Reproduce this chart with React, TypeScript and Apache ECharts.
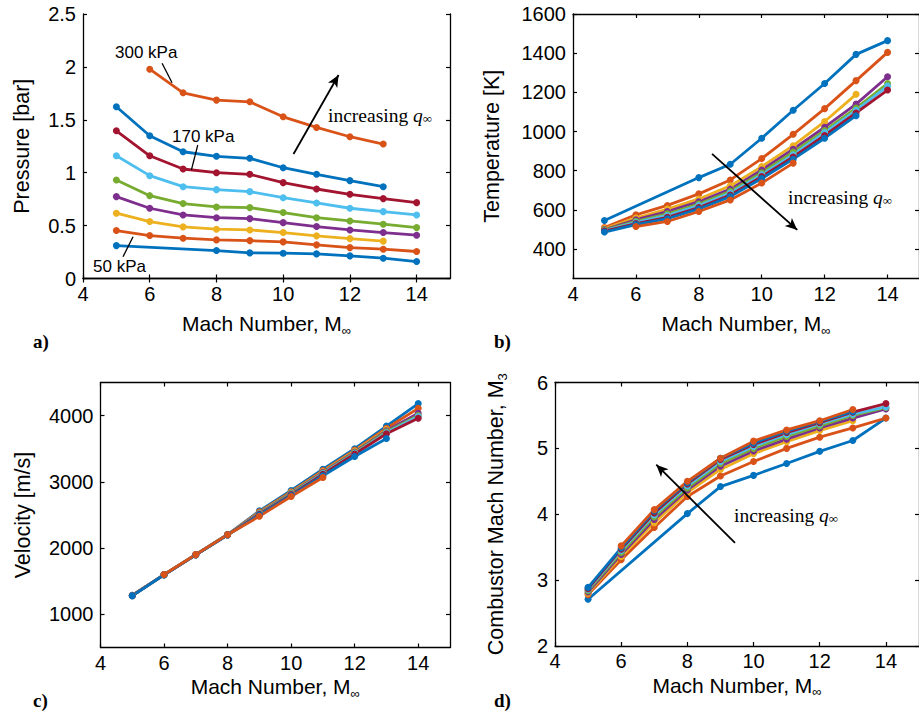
import { useEffect, useRef } from 'react';
import * as echarts from 'echarts';

// ---------------- data ----------------
const machNumbers = [5, 6, 7, 8, 9, 10, 11, 12, 13, 14];
const xTicks = [4, 6, 8, 10, 12, 14];

const caseNames = ['50 kPa', 'case 2', 'case 3', 'case 4', 'case 5', 'case 6', '170 kPa', 'case 8', '300 kPa'];

// a) static pressure [bar]
const pressure: (number | null)[][] = [
  [0.311, null, null, 0.264, 0.242, 0.239, 0.233, 0.214, 0.192, 0.16],
  [0.453, 0.406, 0.381, 0.365, 0.358, 0.346, 0.318, 0.292, 0.277, 0.255],
  [0.617, 0.538, 0.488, 0.466, 0.459, 0.434, 0.403, 0.377, 0.353, null],
  [0.774, 0.664, 0.601, 0.575, 0.566, 0.528, 0.491, 0.459, 0.434, 0.409],
  [0.931, 0.783, 0.708, 0.676, 0.67, 0.623, 0.575, 0.544, 0.513, 0.481],
  [1.16, 0.972, 0.868, 0.84, 0.821, 0.764, 0.714, 0.664, 0.632, 0.601],
  [1.396, 1.16, 1.035, 1.0, 0.985, 0.906, 0.846, 0.796, 0.755, 0.717],
  [1.623, 1.349, 1.198, 1.155, 1.136, 1.047, 0.985, 0.925, 0.868, null],
  [null, 1.978, 1.755, 1.686, 1.67, 1.528, 1.428, 1.34, 1.271, null],
];

// b) temperature [K]
const temperature: (number | null)[][] = [
  [546, null, null, 765, 833, 966, 1109, 1245, 1394, 1464],
  [510, 575, 623, 682, 753, 862, 986, 1117, 1260, 1404],
  [505, 558, 604, 656, 723, 821, 928, 1051, 1190, null],
  [500, 550, 592, 642, 706, 804, 910, 1022, 1140, 1280],
  [497, 542, 580, 630, 695, 790, 895, 1005, 1120, 1245],
  [494, 536, 572, 622, 686, 780, 882, 995, 1108, 1232],
  [492, 530, 562, 612, 676, 770, 870, 980, 1095, 1212],
  [487, 525, 555, 605, 668, 760, 859, 966, 1081, null],
  [null, 515, 541, 592, 651, 737, 839, null, null, null],
];

// c) velocity [m/s]
const velocity: (number | null)[][] = [
  [1290, null, null, 2205, 2562, 2870, 3190, 3500, 3842, 4182],
  [1287, 1601, 1904, 2205, 2548, 2852, 3170, 3480, 3810, 4110],
  [1286, 1600, 1903, 2204, 2538, 2842, 3156, 3466, 3790, null],
  [1285, 1600, 1902, 2203, 2530, 2832, 3145, 3452, 3772, 4035],
  [1284, 1599, 1901, 2202, 2524, 2824, 3135, 3441, 3757, 4002],
  [1283, 1598, 1900, 2201, 2518, 2816, 3126, 3430, 3742, 3985],
  [1282, 1597, 1899, 2200, 2512, 2808, 3116, 3420, 3727, 3960],
  [1280, 1596, 1898, 2199, 2500, 2795, 3092, 3382, 3655, null],
  [null, 1602, 1902, 2203, 2480, 2780, 3065, null, null, null],
];

// d) combustor Mach number
const combustorMach: (number | null)[][] = [
  [2.71, null, null, 4.01, 4.42, 4.59, 4.77, 4.955, 5.12, 5.46],
  [2.78, 3.31, 3.8, 4.27, 4.58, 4.8, 5.0, 5.17, 5.31, 5.46],
  [2.8, 3.36, 3.87, 4.33, 4.68, 4.92, 5.1, 5.27, 5.42, null],
  [2.82, 3.39, 3.92, 4.37, 4.73, 4.96, 5.14, 5.31, 5.46, 5.6],
  [2.84, 3.42, 3.96, 4.4, 4.77, 5.0, 5.18, 5.34, 5.5, 5.62],
  [2.86, 3.45, 3.99, 4.43, 4.8, 5.03, 5.21, 5.37, 5.52, 5.63],
  [2.87, 3.47, 4.02, 4.46, 4.83, 5.06, 5.24, 5.39, 5.55, 5.68],
  [2.89, 3.49, 4.05, 4.48, 4.85, 5.08, 5.26, 5.41, 5.56, null],
  [null, 3.52, 4.07, 4.5, 4.85, 5.11, 5.28, 5.42, 5.59, null],
];

const pressureTicks = [0, 0.5, 1, 1.5, 2, 2.5];
const temperatureTicks = [400, 600, 800, 1000, 1200, 1400, 1600];
const velocityTicks = [1000, 2000, 3000, 4000];
const combustorTicks = [2, 3, 4, 5, 6];

// ---------------- styles ----------------
const colors = ['#0072BD', '#D95319', '#EDB120', '#7E2F8E', '#77AC30', '#4DBEEE', '#A2142F', '#0072BD', '#D95319'];
const SANS = "'Liberation Sans', Arial, Helvetica, sans-serif";
const SERIF = "'Liberation Serif', 'Times New Roman', serif";

type Panel = {
  data: (number | null)[][];
  yMin: number;
  yMax: number;
  yTicks: number[];
  yName: string;
  grid: { left: number; top: number; width: number; height: number };
  yGap: number;
  xGap: number;
  annotations: { from: [number, number]; to: [number, number]; arrow: boolean }[];
};

const panels: Panel[] = [
  {
    data: pressure, yMin: 0, yMax: 2.5, yTicks: pressureTicks, yName: 'Pressure [bar]',
    grid: { left: 83, top: 14, width: 367, height: 264.5 }, yGap: 48, xGap: 32,
    annotations: [
      { from: [10.31, 1.177], to: [11.66, 1.923], arrow: true },
      { from: [6.37, 2.034], to: [6.67, 1.85], arrow: false },
      { from: [7.44, 1.262], to: [7.25, 1.026], arrow: false },
      { from: [5.5, 0.395], to: [5.2, 0.206], arrow: false },
    ],
  },
  {
    data: temperature, yMin: 250, yMax: 1600, yTicks: temperatureTicks, yName: 'Temperature [K]',
    grid: { left: 573, top: 14, width: 350, height: 264.5 }, yGap: 68, xGap: 32,
    annotations: [{ from: [8.42, 886], to: [11.13, 498], arrow: true }],
  },
  {
    data: velocity, yMin: 500, yMax: 4500, yTicks: velocityTicks, yName: 'Velocity [m/s]',
    grid: { left: 100.5, top: 382.5, width: 349.5, height: 265 }, yGap: 65, xGap: 26,
    annotations: [],
  },
  {
    data: combustorMach, yMin: 2, yMax: 6, yTicks: combustorTicks, yName: 'Combustor Mach Number, M{s|3}',
    grid: { left: 555, top: 382.5, width: 367.4, height: 263.5 }, yGap: 46, xGap: 26,
    annotations: [{ from: [9.44, 3.567], to: [7.06, 4.753], arrow: true }],
  },
];

function buildOption() {
  const grid: any[] = [];
  const xAxis: any[] = [];
  const yAxis: any[] = [];
  const series: any[] = [];
  const axisLine = { show: true, lineStyle: { color: '#000', width: 1.3 } };
  const axisTick = (vals: number[]) => ({ show: true, inside: true, length: 4, customValues: vals, lineStyle: { color: '#000', width: 1.2 } });
  const fmt = (v: number) => String(v);

  panels.forEach((p, i) => {
    grid.push({ ...p.grid, containLabel: false, show: false });
    const nameStyle = (size: number) => ({
      fontFamily: SANS, fontSize: size, color: '#000', lineHeight: 26,
      rich: {
        s: { fontFamily: SANS, fontSize: 13, color: '#000', verticalAlign: 'bottom', lineHeight: 13 },
      },
    });
    xAxis.push({
      type: 'value', gridIndex: i, position: 'bottom', min: 4, max: 15,
      name: 'Mach Number, M{s|∞}', nameLocation: 'middle', nameGap: p.xGap,
      nameTextStyle: nameStyle(21),
      axisLine, axisTick: axisTick(xTicks), splitLine: { show: false },
      axisLabel: { show: true, customValues: xTicks, formatter: fmt, margin: 5, fontFamily: SANS, fontSize: 20, color: '#000' },
    });
    yAxis.push({
      type: 'value', gridIndex: i, position: 'left', min: p.yMin, max: p.yMax,
      name: p.yName, nameLocation: 'middle', nameGap: p.yGap,
      nameTextStyle: nameStyle(21.5),
      axisLine, axisTick: axisTick(p.yTicks), splitLine: { show: false },
      axisLabel: { show: true, customValues: p.yTicks, formatter: fmt, margin: 7, fontFamily: SANS, fontSize: 20, color: '#000' },
    });
  });
  // mirrored box axes (top / right)
  panels.forEach((p, i) => {
    xAxis.push({
      type: 'value', gridIndex: i, position: 'top', min: 4, max: 15,
      axisLine, axisTick: axisTick(xTicks), axisLabel: { show: false }, splitLine: { show: false },
    });
    yAxis.push({
      type: 'value', gridIndex: i, position: 'right', min: p.yMin, max: p.yMax,
      axisLine, axisTick: axisTick(p.yTicks), axisLabel: { show: false }, splitLine: { show: false },
    });
  });

  panels.forEach((p, i) => {
    p.data.forEach((vals, si) => {
      series.push({
        type: 'line', name: caseNames[si], xAxisIndex: i, yAxisIndex: i,
        data: machNumbers.map((m, k) => [m, vals[k]]).filter((d) => d[1] !== null),
        symbol: 'circle', symbolSize: 7, showSymbol: true,
        lineStyle: { color: colors[si], width: 2.8 },
        itemStyle: { color: colors[si] },
        silent: true,
      });
    });
    p.annotations.forEach((a) => {
      series.push({
        type: 'line', xAxisIndex: i, yAxisIndex: i, data: [a.from], showSymbol: false, symbolSize: 0,
        lineStyle: { opacity: 0 }, silent: true, z: 10,
        markLine: {
          silent: true, animation: false,
          symbol: a.arrow ? ['none', 'arrow'] : ['none', 'none'],
          symbolSize: [8, 12],
          label: { show: false },
          lineStyle: { color: '#000', width: a.arrow ? 1.8 : 1.3, type: 'solid' },
          itemStyle: { color: '#000' },
          emphasis: { disabled: true },
          data: [[{ coord: a.from }, { coord: a.to }]],
        },
      });
    });
  });

  const incRich = {
    t: { fontFamily: SERIF, fontSize: 19.5, color: '#000' },
    q: { fontFamily: SERIF, fontSize: 19.5, fontStyle: 'italic', color: '#000' },
    s: { fontFamily: SERIF, fontSize: 13, color: '#000', verticalAlign: 'bottom', lineHeight: 13 },
  };
  const incText = (x: number, y: number) => ({
    type: 'text', x, y, silent: true, z: 20,
    style: { text: '{t|increasing }{q|q}{s|∞}', rich: incRich, verticalAlign: 'middle', align: 'left' },
  });
  const label = (text: string, x: number, y: number) => ({
    type: 'text', x, y, silent: true, z: 20,
    style: { text, fontFamily: SANS, fontSize: 17, fill: '#000', verticalAlign: 'middle', align: 'left' },
  });
  const panelLabel = (text: string, x: number, y: number) => ({
    type: 'text', x, y, silent: true, z: 20,
    style: { text, fontFamily: SERIF, fontWeight: 'bold', fontSize: 19, fill: '#000', verticalAlign: 'middle', align: 'left' },
  });

  const graphic = [
    label('300 kPa', 115, 52),
    label('170 kPa', 172, 136),
    label('50 kPa', 93, 266),
    incText(328, 115),
    incText(788, 197),
    incText(734, 515),
    panelLabel('a)', 33, 341),
    panelLabel('b)', 494, 341),
    panelLabel('c)', 33, 700),
    panelLabel('d)', 494, 700),
  ];

  return { animation: false, backgroundColor: '#fff', grid, xAxis, yAxis, series, graphic };
}

export default function App() {
  const ref = useRef<HTMLDivElement>(null);
  useEffect(() => {
    document.body.style.margin = '0';
    if (!ref.current) return;
    const chart = echarts.init(ref.current, undefined, { renderer: 'svg' });
    chart.setOption(buildOption() as any);
    return () => chart.dispose();
  }, []);
  return <div ref={ref} style={{ width: 919, height: 715 }} />;
}
